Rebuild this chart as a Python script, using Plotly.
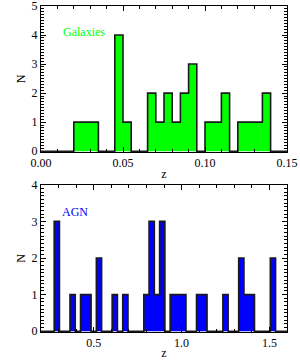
import numpy as np
import plotly.graph_objects as go

# Galaxies histogram: bins of width 0.005 starting at 0.0
gal_bin_start = 0.0
gal_bin_width = 0.005
gal_counts = [0, 0, 0, 0, 1, 1, 1, 0, 0, 4, 1, 0, 0, 2, 1, 2, 1, 2, 3, 0,
              1, 1, 2, 0, 1, 1, 1, 2, 0, 0]

# AGN histogram: bins of width 0.03 starting at 0.275
agn_bin_start = 0.275
agn_bin_width = 0.03
agn_counts = [3, 0, 0, 1, 0, 1, 1, 0, 2, 0, 0, 1, 0, 1, 0, 0, 0, 1, 3, 1, 3, 0,
              1, 1, 1, 0, 0, 1, 1, 0, 0, 0, 1, 0, 0, 2, 1, 1, 0, 0, 0, 2]

gal_xrange = [0.0, 0.15]
agn_xrange = [0.2, 1.6]
gal_yticks = [0, 1, 2, 3, 4, 5]
agn_yticks = [0, 1, 2, 3, 4]
gal_xticks = [0.0, 0.05, 0.10, 0.15]
gal_xticklabels = ["0.00", "0.05", "0.10", "0.15"]
agn_xticks = [0.5, 1.0, 1.5]
agn_xticklabels = ["0.5", "1.0", "1.5"]


def step_xy(start, width, counts, xr):
    edges = start + width * np.arange(len(counts) + 1)
    xs = [xr[0]] + list(edges[:-1]) + [edges[-1], xr[1]]
    ys = [0] + list(counts) + [0, 0]
    return xs, ys


FONT = "Liberation Serif"
fig = go.Figure()

gx, gy = step_xy(gal_bin_start, gal_bin_width, gal_counts, gal_xrange)
fig.add_trace(go.Scatter(x=gx, y=gy, mode="lines", line=dict(shape="hv", color="#1a1a1a", width=1.6),
                         fill="tozeroy", fillcolor="#00ff00", xaxis="x", yaxis="y", showlegend=False))
ax, ay = step_xy(agn_bin_start, agn_bin_width, agn_counts, agn_xrange)
fig.add_trace(go.Scatter(x=ax, y=ay, mode="lines", line=dict(shape="hv", color="#1a1a1a", width=1.6),
                         fill="tozeroy", fillcolor="#0000ff", xaxis="x2", yaxis="y2", showlegend=False))

common = dict(showline=True, linecolor="black", linewidth=1, mirror="allticks", ticks="inside",
              tickcolor="black", ticklen=5, tickwidth=1, showgrid=False, zeroline=False,
              automargin=False, ticklabeloverflow="allow",
              tickfont=dict(family=FONT, size=12, color="black"))

fig.update_layout(
    width=300, height=360,
    margin=dict(l=41, r=13, t=6, b=28),
    plot_bgcolor="white", paper_bgcolor="white",
    font=dict(family=FONT, size=12, color="black"),
    xaxis=dict(domain=[0, 1], anchor="y", range=gal_xrange, tickvals=gal_xticks, ticktext=gal_xticklabels,
               minor=dict(dtick=0.01, ticks="inside", ticklen=3, tickcolor="black"),
               title=dict(text="z", font=dict(family=FONT, size=12), standoff=0), **common),
    yaxis=dict(domain=[0.552, 1], anchor="x", range=[-0.03, 5], tickvals=gal_yticks,
               minor=dict(dtick=0.1, ticks="inside", ticklen=3, tickcolor="black"),
               title=dict(text="N", font=dict(family=FONT, size=12), standoff=3), **common),
    xaxis2=dict(domain=[0, 1], anchor="y2", range=agn_xrange, tickvals=agn_xticks, ticktext=agn_xticklabels,
                minor=dict(dtick=0.1, ticks="inside", ticklen=3, tickcolor="black"),
                title=dict(text="z", font=dict(family=FONT, size=12), standoff=0), **common),
    yaxis2=dict(domain=[0, 0.4515], anchor="x2", range=[-0.02, 4], tickvals=agn_yticks,
                minor=dict(dtick=0.1, ticks="inside", ticklen=3, tickcolor="black"),
                title=dict(text="N", font=dict(family=FONT, size=12), standoff=3), **common),
    annotations=[
        dict(text="Galaxies", x=0.012, y=4.09, xref="x", yref="y", xanchor="left", yanchor="middle",
             showarrow=False, font=dict(family=FONT, size=12, color="#00ff00")),
        dict(text="AGN", x=0.31, y=3.25, xref="x2", yref="y2", xanchor="left", yanchor="middle",
             showarrow=False, font=dict(family=FONT, size=12, color="#0000ff")),
    ],
)

fig.write_html("out.html", config={"displayModeBar": False},
               post_script="document.body.style.margin='0px';")
